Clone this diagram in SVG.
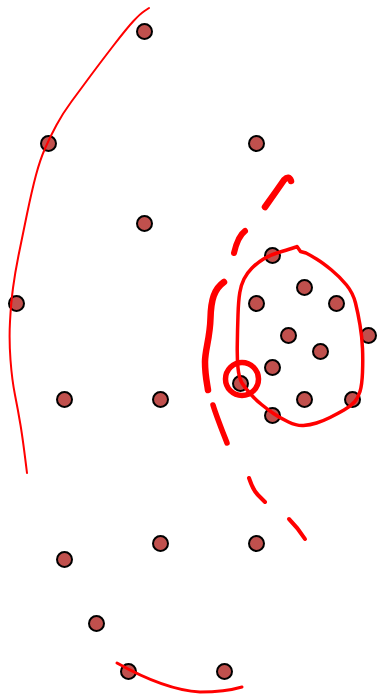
<svg xmlns="http://www.w3.org/2000/svg" width="378" height="697" viewBox="0 0 378 697">
<style>
.dot{fill:#c0504d;stroke:#000;stroke-width:2}
.ink{fill:none;stroke:#ff0000;stroke-linecap:round;stroke-linejoin:round}
</style>
<rect width="378" height="697" fill="#fff"/>
<g id="nodes">
<g id="n1"><circle class="dot" cx="144.5" cy="31.5" r="7.5"/></g>
<g id="n2"><circle class="dot" cx="48.5" cy="143.5" r="7.5"/></g>
<g id="n3"><circle class="dot" cx="256.5" cy="143.5" r="7.5"/></g>
<g id="n4"><circle class="dot" cx="144.5" cy="223.5" r="7.5"/></g>
<g id="n5"><circle class="dot" cx="16.5" cy="303.5" r="7.5"/></g>
<g id="n6"><circle class="dot" cx="272.5" cy="255.5" r="7.5"/></g>
<g id="n7"><circle class="dot" cx="304.5" cy="287.5" r="7.5"/></g>
<g id="n8"><circle class="dot" cx="256.5" cy="303.5" r="7.5"/></g>
<g id="n9"><circle class="dot" cx="336.5" cy="303.5" r="7.5"/></g>
<g id="n10"><circle class="dot" cx="288.5" cy="335.5" r="7.5"/></g>
<g id="n11"><circle class="dot" cx="368.5" cy="335.5" r="7.5"/></g>
<g id="n12"><circle class="dot" cx="320.5" cy="351.5" r="7.5"/></g>
<g id="n13"><circle class="dot" cx="272.5" cy="367.5" r="7.5"/></g>
<g id="n14"><circle class="dot" cx="240.5" cy="383.5" r="7.5"/></g>
<g id="n15"><circle class="dot" cx="304.5" cy="399.5" r="7.5"/></g>
<g id="n16"><circle class="dot" cx="352.5" cy="399.5" r="7.5"/></g>
<g id="n17"><circle class="dot" cx="272.5" cy="415.5" r="7.5"/></g>
<g id="n18"><circle class="dot" cx="64.5" cy="399.5" r="7.5"/></g>
<g id="n19"><circle class="dot" cx="160.5" cy="399.5" r="7.5"/></g>
<g id="n20"><circle class="dot" cx="64.5" cy="559.5" r="7.5"/></g>
<g id="n21"><circle class="dot" cx="160.5" cy="543.5" r="7.5"/></g>
<g id="n22"><circle class="dot" cx="256.5" cy="543.5" r="7.5"/></g>
<g id="n23"><circle class="dot" cx="96.5" cy="623.5" r="7.5"/></g>
<g id="n24"><circle class="dot" cx="128.5" cy="671.5" r="7.5"/></g>
<g id="n25"><circle class="dot" cx="224.5" cy="671.5" r="7.5"/></g>
</g>
<g id="connectors">
<path class="ink" stroke-width="2" d="M149,8 L144.5,11 Q140,14 133.5,21 Q127,28 113.5,45.5 Q100,63 90,76.5 Q80,90 71.5,101.5 Q63,113 56.5,125 Q50,137 45,148.5 Q40,160 36,175 Q32,190 27,214 Q22,238 18.5,255.5 Q15,273 13,288 Q11,303 10,321.5 Q9,340 10.5,360 Q12,380 15,395 Q18,410 20.5,425 Q23,440 27,473"/>
<path class="ink" stroke-width="3" d="M117,663 Q165,690 200,692 Q225,692 242,687"/>
<path class="ink" stroke-width="3.5" d="M296,247 L291.5,248.5 Q287,250 278.5,252.5 Q270,255 263.5,259 Q257,263 252,268 Q247,273 244,279 Q241,285 239.8,292.5 Q238.5,300 238,315 Q237.5,330 237.3,344 Q237,358 238,368 Q239,378 242,383 Q245,388 250.5,394 Q256,400 261.5,404.5 Q267,409 273.5,413.5 Q280,418 288.5,422 Q297,426 303.5,425.5 Q310,425 316.5,423 Q323,421 330,417.5 Q337,414 344,410 Q351,406 354.5,402 Q358,398 360,391.5 Q362,385 362.5,372.5 Q363,360 362.5,348.5 Q362,337 360,325 Q358,313 355.5,303 Q353,293 346.5,285 Q340,277 331.5,270 Q323,263 316.5,259 Q310,255 306,253 L300.5,251.5 L297,246.5"/>
<circle class="ink" cx="242" cy="379" r="16.5" stroke-width="5.5"/>
<path class="ink" stroke-width="6.5" d="M265,207 Q275,193 284,180 Q289,175 291,181"/>
<path class="ink" stroke-width="6" d="M245,231 Q238,236 234,253"/>
<path class="ink" stroke-width="6.5" d="M224,282 C214,289 211,300 210.5,318 C210,338 205,350 205,362 C205,375 207,383 208,390"/>
<path class="ink" stroke-width="5.5" d="M213,405 C216,415 220,425 227,443"/>
<path class="ink" stroke-width="4" d="M249,478 Q253,490 258,495 Q262,499 265,502"/>
<path class="ink" stroke-width="4" d="M289,519 Q298,528 305,539"/>
</g>
</svg>
